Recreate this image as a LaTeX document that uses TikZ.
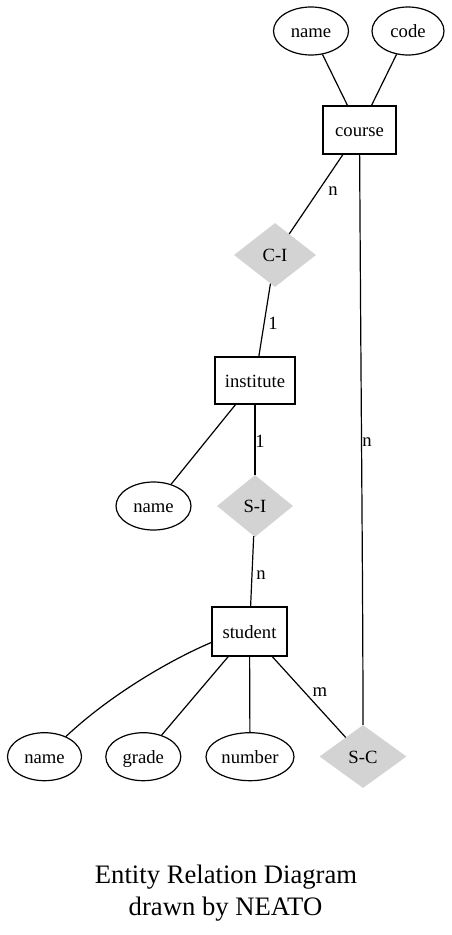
\documentclass[tikz,border=0pt]{standalone}
\usepackage{fontspec}
\setmainfont{Liberation Serif}
\usetikzlibrary{shapes.geometric}
\definecolor{relgray}{RGB}{211,211,211}
\begin{document}
\begin{tikzpicture}[x=1pt,y=-1pt,
  lbl/.style={font=\fontsize{18.67}{22}\selectfont, inner sep=0pt},
  txt/.style={lbl, text height=15pt, text depth=1.6pt},
  attr/.style={txt, ellipse, draw, line width=1.2pt, minimum height=48pt},
  entity/.style={txt, rectangle, draw, line width=1.2pt, minimum height=48pt},
  rel/.style={txt, diamond, fill=relgray, aspect=1.3},
  conn/.style={line width=1.2pt},
  titletext/.style={font=\fontsize{26.67}{32}\selectfont, inner sep=0pt, anchor=base}]
\useasboundingbox (0,0) rectangle (452,935);
% nodes
\node[attr, minimum width=75pt] (cname) at (311,31) {name};
\node[attr, minimum width=72pt] (ccode) at (408,31) {code};
\node[entity, minimum width=73pt] (course) at (359.5,130) {course};
\node[rel, minimum width=82pt, minimum height=64pt] (ci) at (275,255) {C-I};
\node[entity, minimum width=80pt, minimum height=47pt] (inst) at (255,380.5) {institute};
\node[attr, minimum width=75pt] (iname) at (153.5,506) {name};
\node[rel, minimum width=76pt, minimum height=62pt] (si) at (255,506) {S-I};
\node[entity, minimum width=75pt, minimum height=49pt] (student) at (249.5,631.5) {student};
\node[attr, minimum width=74pt] (sname) at (44.5,756.7) {name};
\node[attr, minimum width=75pt] (sgrade) at (143.3,756.7) {grade};
\node[attr, minimum width=88pt] (snum) at (250,756.7) {number};
\node[rel, minimum width=87pt, minimum height=63pt] (sc) at (363,756.5) {S-C};
% edges
\draw[conn] (cname) -- (course);
\draw[conn] (ccode) -- (course);
\draw[conn] (course) -- (ci);
\draw[conn] (ci) -- (inst);
\draw[conn] (inst) -- (iname);
\draw[conn] (inst) -- (si);
\draw[conn] (si) -- (student);
\draw[conn] (student.196) .. controls (170,660) and (110,695) .. (sname);
\draw[conn] (student) -- (sgrade);
\draw[conn] (student) -- (snum);
\draw[conn] (student) -- (sc);
\draw[conn] (course) .. controls (361,400) and (363,600) .. (sc);
% edge labels
\node[lbl] (lcin) at (333,191) {n};
\node[lbl] (lcione) at (273,323) {1};
\node[lbl] (lsione) at (260,441) {1};
\node[lbl] (lsin) at (261,575) {n};
\node[lbl] (lscm) at (320,692) {m};
\node[lbl] (lscn) at (367,442) {n};
% title
\node[titletext] (title1) at (226,883) {Entity Relation Diagram};
\node[titletext] (title2) at (225.5,915) {drawn by NEATO};
\end{tikzpicture}
\end{document}
